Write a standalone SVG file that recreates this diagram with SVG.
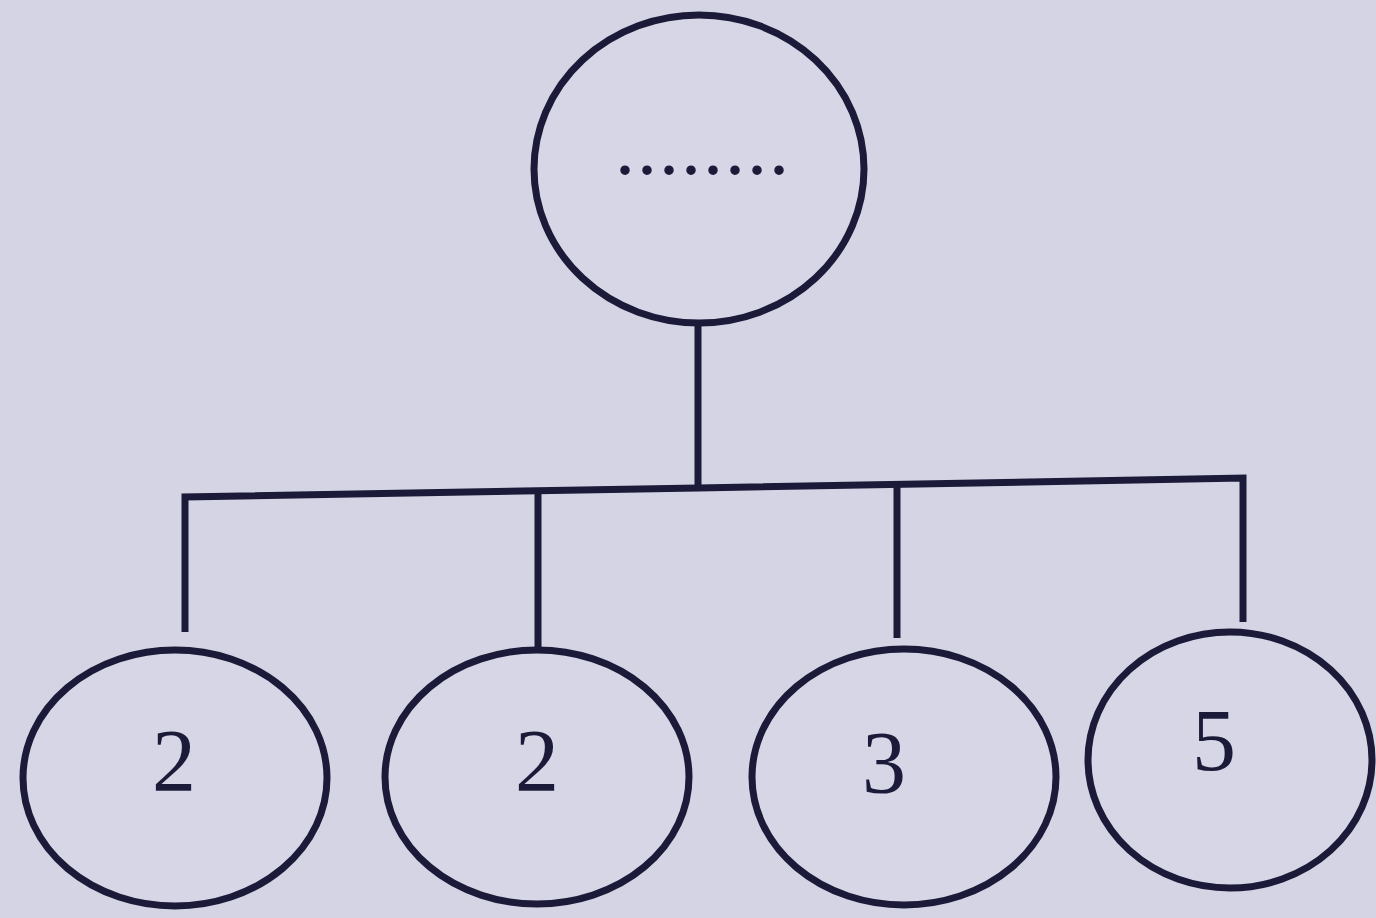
<svg xmlns="http://www.w3.org/2000/svg" width="1376" height="918" viewBox="0 0 1376 918">
  <style>
    .node { fill: #d6d6e6; stroke: #1b1a38; stroke-width: 7; }
    .conn { fill: none; stroke: #1b1a38; stroke-width: 7; stroke-linecap: butt; stroke-linejoin: miter; }
    .lbl { font-family: "Liberation Serif", "Times New Roman", serif; font-size: 88px; fill: #1b1a38; text-anchor: middle; }
    .dots { font-family: "Liberation Serif", "Times New Roman", serif; font-size: 80px; fill: #1b1a38; text-anchor: middle; letter-spacing: 2px; }
  </style>
  <rect x="0" y="0" width="1376" height="918" fill="#d4d4e4"/>
  <g id="connectors">
    <line class="conn" x1="698" y1="322" x2="698" y2="489"/>
    <polyline class="conn" points="185,632 185,497 698,488 1243,478 1243,622"/>
    <line class="conn" x1="538" y1="493" x2="538" y2="652"/>
    <line class="conn" x1="897" y1="486" x2="897" y2="638"/>
  </g>
  <g id="root">
    <ellipse class="node" cx="699" cy="169" rx="165" ry="154"/>
    <text class="dots" x="703" y="174">........</text>
  </g>
  <g id="n1">
    <ellipse class="node" cx="175" cy="778" rx="152" ry="128"/>
    <text class="lbl" x="174" y="790">2</text>
  </g>
  <g id="n2">
    <ellipse class="node" cx="537" cy="777" rx="152" ry="127"/>
    <text class="lbl" x="537" y="790">2</text>
  </g>
  <g id="n3">
    <ellipse class="node" cx="904" cy="777" rx="152" ry="128"/>
    <text class="lbl" x="884" y="792">3</text>
  </g>
  <g id="n4">
    <ellipse class="node" cx="1230" cy="760" rx="142" ry="128"/>
    <text class="lbl" x="1214" y="770">5</text>
  </g>
</svg>
